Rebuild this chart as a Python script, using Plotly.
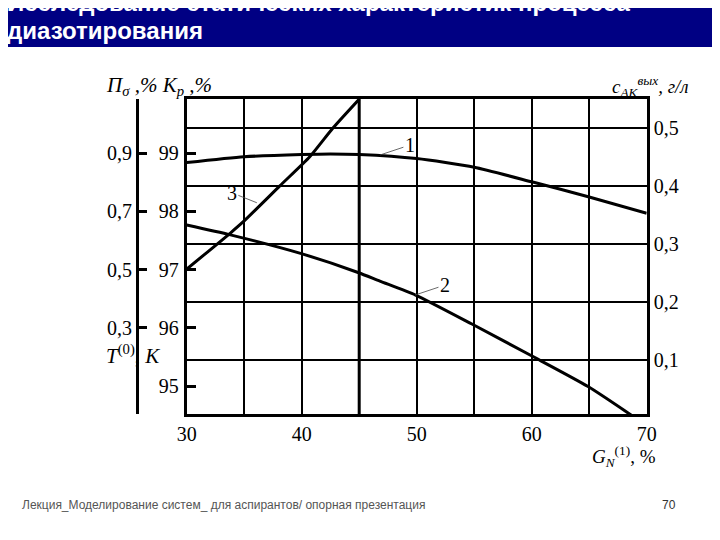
import plotly.graph_objects as go

# ---------------- data ----------------
# x: G_N^(1), %
curve1_x = [30, 35, 40, 42.5, 45, 50, 55, 60, 65, 70]
curve1_k = [98.84, 98.94, 98.98, 98.99, 98.98, 98.91, 98.76, 98.51, 98.25, 97.97]   # left K scale

curve2_x = [30, 33.8, 39.9, 44.9, 46.8, 49.9, 54.8, 59.9, 64.9, 69.0]
curve2_c = [0.333, 0.316, 0.284, 0.251, 0.236, 0.212, 0.162, 0.108, 0.054, 0.0]      # right c_AK scale

curve3_x = [30, 33.8, 34.9, 38.1, 40.7, 42.7, 45.0]
curve3_k = [97.01, 97.63, 97.82, 98.44, 98.94, 99.43, 99.93]

vline_x = [45, 45]

x_ticks = [30, 35, 40, 45, 50, 55, 60, 65, 70]
x_ticktext = ["30", "", "40", "", "50", "", "60", "", "70"]
c_ticks = [0.1, 0.2, 0.3, 0.4, 0.5]
c_ticktext = ["0,1", "0,2", "0,3", "0,4", "0,5"]
k_ticks = [95, 96, 97, 98, 99]
k_ticktext = ["95", "96", "97", "98", "99"]
p_ticks = [0.3, 0.5, 0.7, 0.9]
p_ticktext = ["0,3", "0,5", "0,7", "0,9"]

x_range = [30, 70]
c_range = [0.0066, 0.5506]
k_range = [94.52, 99.933]
p_range = [0.004, 1.0866]

# ---------------- helpers ----------------
W, H = 720, 540
OFF = 8  # page body margin
def px(x):
    return (x - OFF) / W
def py(y):
    return 1 - (y - OFF) / H

SERIF = "Liberation Serif, Times New Roman, serif"
SANS = "Liberation Sans, Arial, sans-serif"

fig = go.Figure()

line_style = dict(color="black", width=3, shape="spline", smoothing=0.6)
fig.add_trace(go.Scatter(x=curve1_x, y=curve1_k, yaxis="y2", mode="lines", line=line_style, showlegend=False, hoverinfo="skip"))
fig.add_trace(go.Scatter(x=curve2_x, y=curve2_c, yaxis="y", mode="lines", line=line_style, showlegend=False, hoverinfo="skip"))
fig.add_trace(go.Scatter(x=curve3_x, y=curve3_k, yaxis="y2", mode="lines", line=line_style, showlegend=False, hoverinfo="skip"))
fig.add_trace(go.Scatter(x=vline_x, y=k_range, yaxis="y2", mode="lines",
                         line=dict(color="black", width=3), showlegend=False, hoverinfo="skip"))
# invisible trace so that the third (left) scale is drawn
fig.add_trace(go.Scatter(x=x_range, y=p_range, yaxis="y3", mode="markers",
                         marker=dict(opacity=0), showlegend=False, hoverinfo="skip"))

x_dom = [px(186.7), px(646.7)]
y_dom = [py(414), py(99)]

tickfont = dict(family=SERIF, size=20, color="black")

fig.update_layout(
    template="none",
    width=W, height=H,
    margin=dict(l=0, r=0, t=0, b=0, autoexpand=False),
    paper_bgcolor="white", plot_bgcolor="white",
    showlegend=False,
    xaxis=dict(domain=x_dom, range=x_range, tickvals=x_ticks, ticktext=x_ticktext,
               showgrid=True, gridcolor="black", gridwidth=1.5,
               showline=True, linecolor="black", linewidth=3, mirror=True,
               ticks="", zeroline=False, tickfont=tickfont, automargin=False),
    yaxis=dict(domain=y_dom, range=c_range, side="right", tickvals=c_ticks, ticktext=c_ticktext,
               showgrid=True, gridcolor="black", gridwidth=1.5,
               showline=True, linecolor="black", linewidth=3, mirror=True,
               ticks="", zeroline=False, tickfont=tickfont, automargin=False),
    yaxis2=dict(overlaying="y", side="left", anchor="x", range=k_range,
                tickvals=k_ticks, ticktext=k_ticktext,
                ticks="inside", ticklen=9, tickwidth=3, tickcolor="black", ticklabelstandoff=7,
                showgrid=False, showline=False, zeroline=False, tickfont=tickfont, automargin=False),
    yaxis3=dict(overlaying="y", side="left", anchor="free", position=px(137), range=p_range,
                tickvals=[p_range[0]] + p_ticks + [p_range[1]],
                ticktext=[""] + p_ticktext + [""],
                ticks="inside", ticklen=8, tickwidth=3, tickcolor="black",
                showgrid=False, showline=True, linecolor="black", linewidth=3,
                zeroline=False, tickfont=tickfont, automargin=False),
)

# header bar
fig.add_shape(type="rect", xref="paper", yref="paper", x0=-0.02, x1=1.02, y0=py(47), y1=1.05,
              fillcolor="#000083", line=dict(width=0), layer="below")
hdr_font = dict(family=SANS, size=24, color="white")
fig.add_annotation(xref="paper", yref="paper", x=px(5), y=py(3), xanchor="left", yanchor="middle",
                   text="<b>Исследование статических характеристик процесса</b>", showarrow=False, font=hdr_font)
fig.add_annotation(xref="paper", yref="paper", x=px(5), y=py(30), xanchor="left", yanchor="middle",
                   text="<b>диазотирования</b>", showarrow=False, font=hdr_font)

# axis titles
tfont = dict(family=SERIF, size=21, color="black")
fig.add_annotation(xref="paper", yref="paper", x=px(104), y=py(86), xanchor="left", yanchor="middle",
                   text="<i>П<sub>σ</sub> ,% K<sub>р</sub> ,%</i>", showarrow=False, font=tfont)
fig.add_annotation(xref="paper", yref="paper", x=px(104), y=py(354), xanchor="left", yanchor="middle",
                   text="<i>T</i><sup>(0)</sup>, <i>K</i>", showarrow=False, font=tfont)
fig.add_annotation(xref="paper", yref="paper", x=px(610), y=py(87), xanchor="left", yanchor="middle",
                   text="<i>c<sub>AK</sub><sup>вых</sup>, г/л</i>", showarrow=False,
                   font=dict(family=SERIF, size=19, color="black"))
fig.add_annotation(xref="paper", yref="paper", x=px(590), y=py(456), xanchor="left", yanchor="middle",
                   text="<i>G<sub>N</sub></i><sup>(1)</sup>, %", showarrow=False,
                   font=dict(family=SERIF, size=19, color="black"))

# curve number labels with leader lines
lfont = dict(family=SERIF, size=20, color="black")
lead = dict(showarrow=True, arrowhead=0, arrowwidth=0.8, arrowcolor="#444", font=lfont, standoff=0)
fig.add_annotation(x=46.8, y=98.97, xref="x", yref="y2", text="1", ax=30, ay=-10, **lead)
fig.add_annotation(x=49.85, y=0.212, xref="x", yref="y", text="2", ax=30, ay=-10, **lead)
fig.add_annotation(x=36.1, y=98.15, xref="x", yref="y2", text="3", ax=-25, ay=-10, **lead)

# footer
fig.add_annotation(xref="paper", yref="paper", x=px(20), y=py(505), xanchor="left", yanchor="middle",
                   text="Лекция_Моделирование систем_ для аспирантов/ опорная презентация",
                   showarrow=False, font=dict(family=SANS, size=12, color="#555"))
fig.add_annotation(xref="paper", yref="paper", x=px(669), y=py(505), xanchor="center", yanchor="middle",
                   text="70", showarrow=False, font=dict(family=SANS, size=12, color="#333"))

fig.write_html("out.html")
